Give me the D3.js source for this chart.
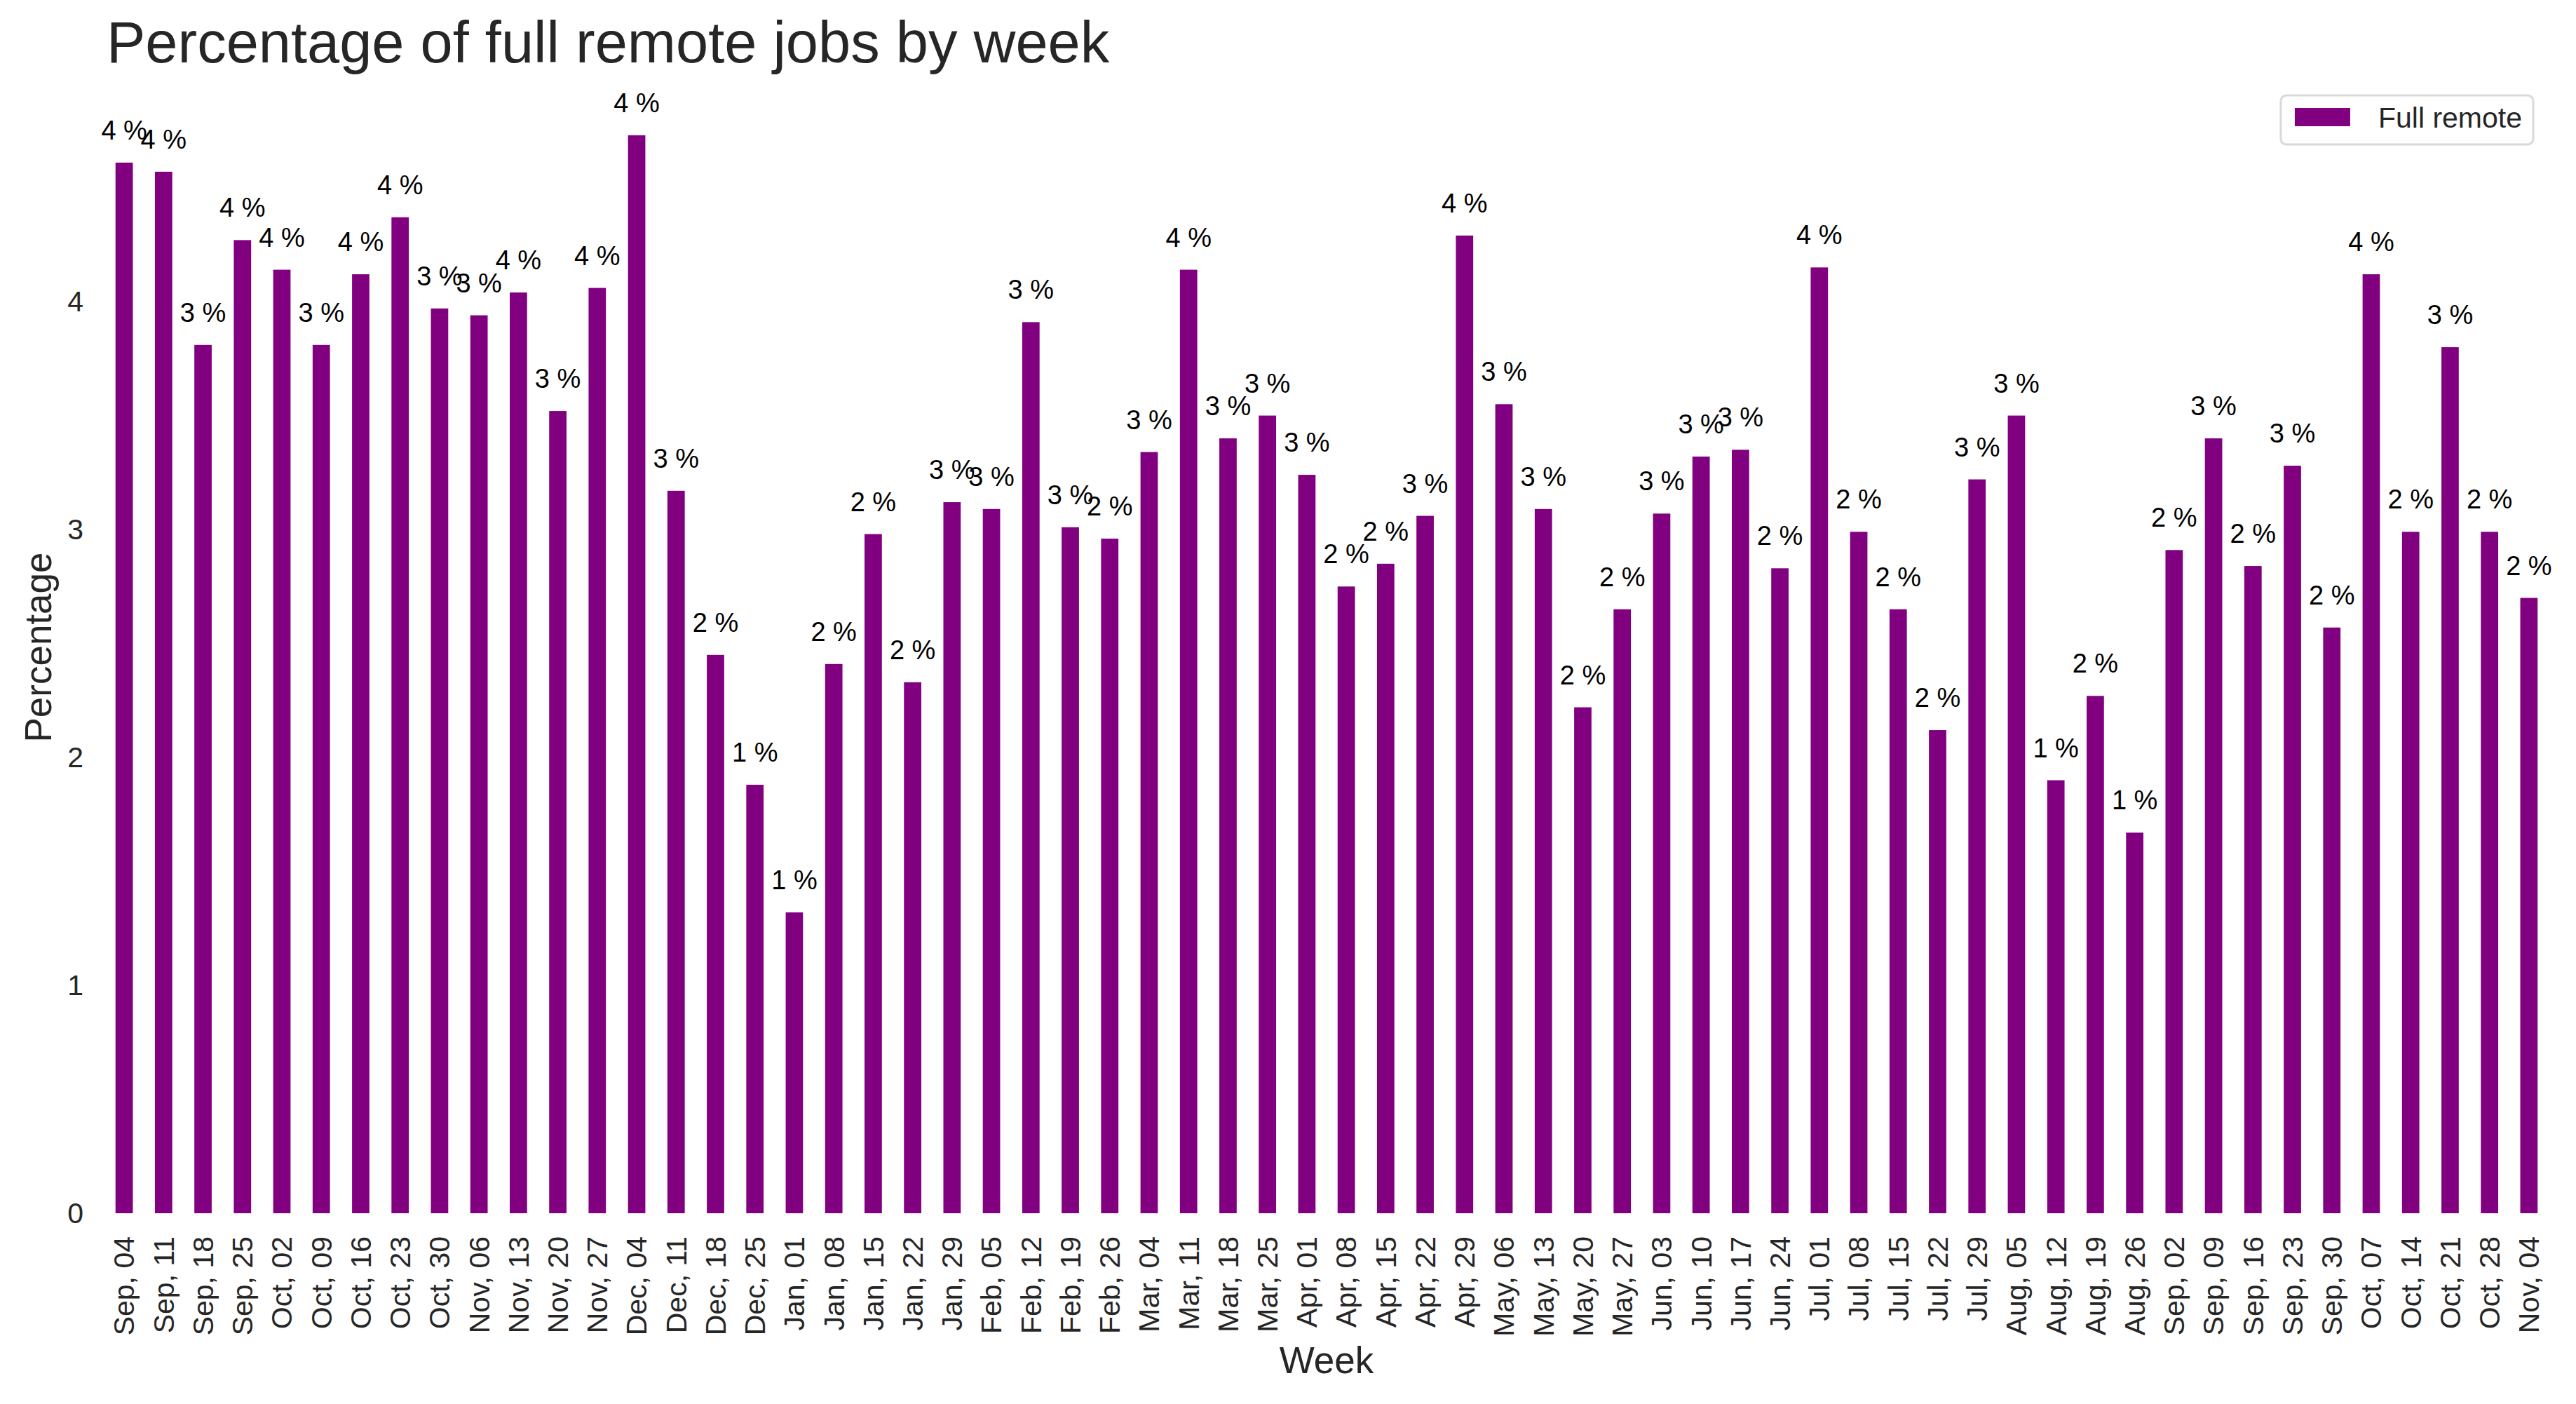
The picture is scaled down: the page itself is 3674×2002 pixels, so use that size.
<!DOCTYPE html>
<html>

<head>
    <title>Full remote jobs by week</title>
    <script src="https://d3js.org/d3.v7.min.js"></script>
    <style>
        body {
            margin: 0;
            background: #ffffff;
        }

        svg text {
            font-family: "Liberation Sans", Arial, sans-serif;
        }
    </style>
</head>

<body>
    <div id="chart"></div>

    <script>
        // Week labels (x axis)
        const weeks = [
            "Sep, 04", "Sep, 11", "Sep, 18", "Sep, 25", "Oct, 02", "Oct, 09", "Oct, 16", "Oct, 23",
            "Oct, 30", "Nov, 06", "Nov, 13", "Nov, 20", "Nov, 27", "Dec, 04", "Dec, 11", "Dec, 18",
            "Dec, 25", "Jan, 01", "Jan, 08", "Jan, 15", "Jan, 22", "Jan, 29", "Feb, 05", "Feb, 12",
            "Feb, 19", "Feb, 26", "Mar, 04", "Mar, 11", "Mar, 18", "Mar, 25", "Apr, 01", "Apr, 08",
            "Apr, 15", "Apr, 22", "Apr, 29", "May, 06", "May, 13", "May, 20", "May, 27", "Jun, 03",
            "Jun, 10", "Jun, 17", "Jun, 24", "Jul, 01", "Jul, 08", "Jul, 15", "Jul, 22", "Jul, 29",
            "Aug, 05", "Aug, 12", "Aug, 19", "Aug, 26", "Sep, 02", "Sep, 09", "Sep, 16", "Sep, 23",
            "Sep, 30", "Oct, 07", "Oct, 14", "Oct, 21", "Oct, 28", "Nov, 04"
        ];

        // Percentage of full remote jobs
        const fullRemote = [
            4.61, 4.57, 3.81, 4.27, 4.14, 3.81, 4.12, 4.37,
            3.97, 3.94, 4.04, 3.52, 4.06, 4.73, 3.17, 2.45,
            1.88, 1.32, 2.41, 2.98, 2.33, 3.12, 3.09, 3.91,
            3.01, 2.96, 3.34, 4.14, 3.40, 3.50, 3.24, 2.75,
            2.85, 3.06, 4.29, 3.55, 3.09, 2.22, 2.65, 3.07,
            3.32, 3.35, 2.83, 4.15, 2.99, 2.65, 2.12, 3.22,
            3.50, 1.90, 2.27, 1.67, 2.91, 3.40, 2.84, 3.28,
            2.57, 4.12, 2.99, 3.80, 2.99, 2.70
        ];

        const yTicks = [0, 1, 2, 3, 4];

        const seriesName = "Full remote";
        const titleText = "Percentage of full remote jobs by week";
        const xLabel = "Week";
        const yLabel = "Percentage";

        const totalWidth = 3674, totalHeight = 2002;
        const margin = { top: 116, right: 39, bottom: 272, left: 149 };
        const width = totalWidth - margin.left - margin.right,
              height = totalHeight - margin.top - margin.bottom;

        const barColor = "#800080";
        const textColor = "#262626";

        const svg = d3.select("#chart")
            .append("svg")
            .attr("width", totalWidth)
            .attr("height", totalHeight);

        const g = svg.append("g")
            .attr("transform", `translate(${margin.left},${margin.top})`);

        const xScale = d3.scaleBand()
            .domain(weeks)
            .range([0, width])
            .paddingInner(0.56)
            .paddingOuter(0.28);

        // matplotlib style 5% headroom above the tallest bar
        const yMax = d3.max(fullRemote) * 1.05;
        const yScale = d3.scaleLinear()
            .domain([0, yMax])
            .range([height, 0]);

        const data = weeks.map((w, i) => ({ week: w, value: fullRemote[i] }));

        // bars
        g.selectAll(".bar")
            .data(data)
            .enter().append("rect")
            .attr("class", "bar")
            .attr("x", d => xScale(d.week))
            .attr("width", xScale.bandwidth())
            .attr("y", d => yScale(d.value))
            .attr("height", d => height - yScale(d.value))
            .attr("fill", barColor);

        // value labels above the bars
        g.selectAll(".bar-label")
            .data(data)
            .enter().append("text")
            .attr("class", "bar-label")
            .attr("x", d => xScale(d.week) + xScale.bandwidth() / 2)
            .attr("y", d => yScale(d.value) - 33)
            .attr("text-anchor", "middle")
            .style("font-size", "38px")
            .style("fill", "#000000")
            .text(d => Math.floor(d.value) + " %");

        // y axis, no line and no ticks
        const yAxis = g.append("g")
            .attr("class", "y axis")
            .call(d3.axisLeft(yScale).tickValues(yTicks).tickSize(0).tickPadding(30).tickFormat(d3.format("d")));
        yAxis.select(".domain").remove();
        yAxis.selectAll("text")
            .style("font-size", "41px")
            .style("fill", textColor);

        // x axis, labels turned vertical
        const xAxis = g.append("g")
            .attr("class", "x axis")
            .attr("transform", `translate(0,${height})`)
            .call(d3.axisBottom(xScale).tickSize(0));
        xAxis.select(".domain").remove();
        xAxis.selectAll("text")
            .style("font-size", "41px")
            .style("fill", textColor)
            .attr("text-anchor", "end")
            .attr("transform", "rotate(-90)")
            .attr("x", -33)
            .attr("y", 0)
            .attr("dy", "0.35em");

        // title
        svg.append("text")
            .attr("x", margin.left + 3)
            .attr("y", 89)
            .style("font-size", "83px")
            .style("fill", textColor)
            .text(titleText);

        // axis labels
        svg.append("text")
            .attr("x", margin.left + width / 2)
            .attr("y", 1958)
            .attr("text-anchor", "middle")
            .style("font-size", "53px")
            .style("fill", textColor)
            .text(xLabel);

        svg.append("text")
            .attr("transform", `translate(73,${margin.top + height / 2}) rotate(-90)`)
            .attr("text-anchor", "middle")
            .style("font-size", "53px")
            .style("fill", textColor)
            .text(yLabel);

        // legend in the upper right corner
        const legend = svg.append("g")
            .attr("transform", `translate(${margin.left + width - 20},${margin.top + 20})`);

        const legendText = legend.append("text")
            .attr("y", 46)
            .style("font-size", "41px")
            .style("fill", textColor)
            .text(seriesName);
        const textW = legendText.node().getComputedTextLength();
        legendText.attr("x", -18 - textW);

        legend.insert("rect", "text")
            .attr("x", -18 - textW - 139)
            .attr("y", 0)
            .attr("width", textW + 139 + 16)
            .attr("height", 70)
            .attr("rx", 8)
            .attr("fill", "#ffffff")
            .attr("stroke", "#d9d9d9")
            .attr("stroke-width", 3);

        legend.append("rect")
            .attr("x", -18 - textW - 119)
            .attr("y", 18)
            .attr("width", 79)
            .attr("height", 26)
            .attr("fill", barColor);
    </script>
</body>

</html>
